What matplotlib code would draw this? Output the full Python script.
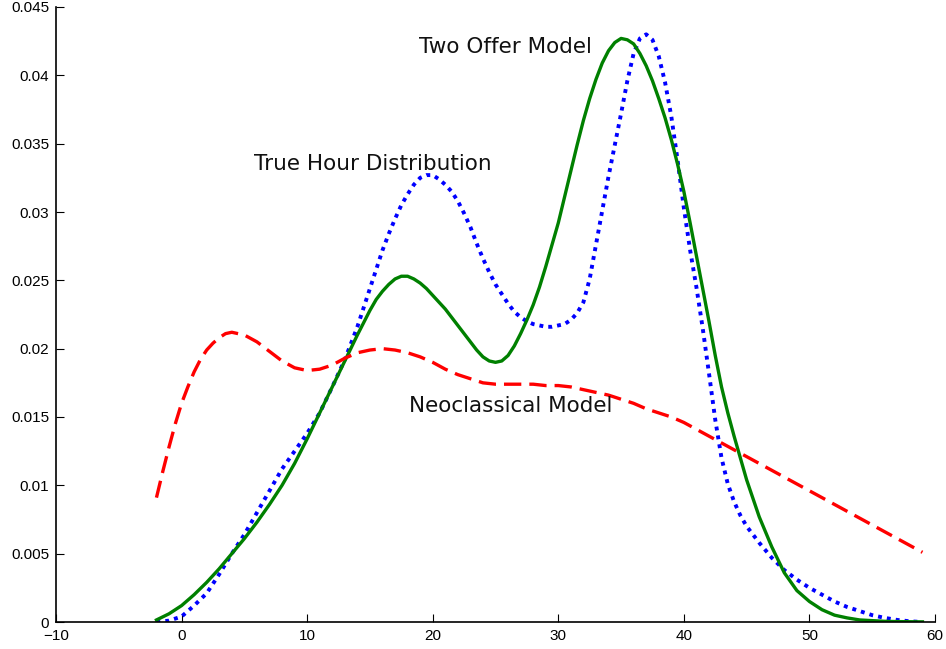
import matplotlib
matplotlib.use("Agg")
import matplotlib.pyplot as plt

plt.rcParams['font.family'] = ['Liberation Sans', 'DejaVu Sans']

# Two Offer Model (green, solid)
two_offer_x = [-2, -1, 0, 1, 2, 3, 4, 5, 6, 7, 8, 9, 10, 11, 12, 13,
               14, 14.5, 15, 15.5, 16, 16.5, 17, 17.5, 18, 18.5, 19, 19.5, 20, 20.5,
               21, 21.5, 22, 22.5, 23, 23.5, 24, 24.5, 25, 25.5, 26, 26.5, 27, 27.5,
               28, 28.5, 29, 29.5, 30, 30.5, 31, 31.5, 32, 32.5, 33, 33.5, 34, 34.5,
               35, 35.5, 36, 36.5, 37, 37.5, 38, 38.5, 39, 39.5, 40, 40.5, 41, 41.5,
               42, 42.5, 43, 43.5, 44, 45, 46, 47, 48, 49, 50, 51, 52, 53, 54, 55,
               56, 57, 58, 59]
two_offer = [0.00015, 0.0006, 0.0012, 0.0020, 0.0029, 0.0039, 0.0050, 0.0061, 0.0073, 0.0086,
             0.0100, 0.0116, 0.0134, 0.0153, 0.0172, 0.0191,
             0.0210, 0.0219, 0.0228, 0.0236, 0.0242, 0.0247, 0.0251, 0.0253, 0.0253, 0.0251,
             0.0248, 0.0244, 0.0239, 0.0234,
             0.0229, 0.0223, 0.0217, 0.0211, 0.0205, 0.0199, 0.0194, 0.0191, 0.0190, 0.0191,
             0.0195, 0.0202, 0.0211, 0.0221,
             0.0232, 0.0245, 0.0260, 0.0276, 0.0292, 0.0311, 0.0330, 0.0349, 0.0367, 0.0383,
             0.0397, 0.0409, 0.0418, 0.0424,
             0.0427, 0.0426, 0.0423, 0.0416, 0.0407, 0.0396, 0.0383, 0.0369, 0.0353, 0.0335,
             0.0315, 0.0292, 0.0268, 0.0244,
             0.0220, 0.0195, 0.0172, 0.0153, 0.0136, 0.0104, 0.0077, 0.0055, 0.0036, 0.0023,
             0.0015, 0.0009, 0.0005, 0.0003, 0.00015, 0.0001,
             0.00005, 0.00003, 0.00002, 0.00001]

# True Hour Distribution (blue, dotted)
true_x = [-2, -1, 0, 1, 2, 3, 4, 5, 6, 7, 8, 9, 10, 11, 12, 13, 14,
          15, 15.5, 16, 16.5, 17, 17.5, 18, 18.5, 19, 19.5, 20, 20.5, 21, 21.5,
          22, 22.5, 23, 23.5, 24, 24.5, 25, 25.5, 26, 26.5, 27, 27.5, 28, 28.5,
          29, 29.5, 30, 30.5, 31, 31.5, 32, 32.5, 33, 33.5, 34, 34.5, 35, 35.5,
          36, 36.5, 37, 37.5, 38, 38.5, 39, 39.5, 40, 40.5, 41, 41.5, 42, 42.5,
          43, 43.5, 44, 44.5, 45, 46, 47, 48, 49, 50, 51, 52, 53, 54, 55, 56,
          57, 58, 59]
true_hours = [0.0, 0.0001, 0.0004, 0.0012, 0.0021, 0.0035, 0.0050, 0.0064, 0.0080, 0.0096,
              0.0112, 0.0125, 0.0138, 0.0153, 0.0172, 0.0192, 0.0216,
              0.0244, 0.0258, 0.0272, 0.0284, 0.0295, 0.0305, 0.0313, 0.0320, 0.0325, 0.0327,
              0.0327, 0.0324, 0.0320, 0.0315,
              0.0308, 0.0299, 0.0289, 0.0277, 0.0266, 0.0256, 0.0247, 0.0240, 0.0233, 0.0227,
              0.0223, 0.0220, 0.0218, 0.0217,
              0.0216, 0.0216, 0.0217, 0.0218, 0.0221, 0.0226, 0.0234, 0.0251, 0.0276, 0.0301,
              0.0326, 0.0349, 0.0372, 0.0396,
              0.0416, 0.0427, 0.0430, 0.0426, 0.0414, 0.0395, 0.0370, 0.0338, 0.0303, 0.0272,
              0.0245, 0.0215, 0.0182, 0.0148,
              0.0120, 0.0101, 0.0088, 0.0078, 0.0070, 0.0058, 0.0047, 0.0038, 0.0031, 0.0025,
              0.0020, 0.0015, 0.0011, 0.0008, 0.0005, 0.0003,
              0.00015, 0.00005, 0.0]

# Neoclassical Model (red, dashed)
neo_x = [-2, -1.5, -1, -0.5, 0, 0.5, 1, 1.5, 2, 2.5, 3, 3.5, 4, 4.5, 5, 6, 7, 8, 9, 10,
         11, 12, 13, 14, 15, 16, 17, 18, 19, 20, 21, 22, 23, 24, 25, 26, 27, 28, 29, 30,
         31, 32, 33, 34, 35, 36, 37, 38, 39, 40, 41, 42, 43, 44, 45, 46, 47, 48, 49, 50,
         51, 52, 53, 54, 55, 56, 57, 58, 59]
neoclassical = [0.0091, 0.0110, 0.0128, 0.0145, 0.0160, 0.0172, 0.0183, 0.0192, 0.0199, 0.0204,
                0.0208, 0.0211, 0.0212, 0.0211, 0.0210, 0.0205, 0.0198, 0.0191, 0.0186, 0.0184,
                0.0185, 0.0188, 0.0193, 0.0197, 0.0199, 0.0200, 0.0199, 0.0197, 0.0194, 0.0190,
                0.0185, 0.0181, 0.0178, 0.0175, 0.0174, 0.0174, 0.0174, 0.0174, 0.0173, 0.0173,
                0.0172, 0.0170, 0.0168, 0.0166, 0.0163, 0.0160, 0.0156, 0.0153, 0.0150, 0.0146,
                0.0141, 0.0136, 0.0131, 0.0126, 0.0121, 0.0116, 0.0111, 0.0106, 0.0101, 0.0096,
                0.0091, 0.0086, 0.0081, 0.0076, 0.0071, 0.0066, 0.0061, 0.0056, 0.0051]

labels = ["Two Offer Model", "True Hour Distribution", "Neoclassical Model"]
label_pos = [(18.9, 0.0421), (5.8, 0.0335), (18.1, 0.0158)]

x_ticks = [-10, 0, 10, 20, 30, 40, 50, 60]
y_ticks = [0, 0.005, 0.01, 0.015, 0.02, 0.025, 0.03, 0.035, 0.04, 0.045]
y_tick_labels = ["0", "0.005", "0.01", "0.015", "0.02", "0.025", "0.03", "0.035", "0.04", "0.045"]

fig = plt.figure(figsize=(9.46, 6.49), dpi=100)
ax = fig.add_axes([56/946, 27/649, 879/946, 615/649])

ax.plot(true_x, true_hours, color='#0000FF', linestyle=(0, (1.0, 1.3)), linewidth=2.8,
        dash_capstyle='butt')
ax.plot(two_offer_x, two_offer, color='#008000', linestyle='-', linewidth=2.4,
        solid_joinstyle='round')
ax.plot(neo_x, neoclassical, color='#FF0000', linestyle=(0, (5.2, 2.4)), linewidth=2.4)

for txt, (tx, ty) in zip(labels, label_pos):
    ax.text(tx, ty, txt, ha='left', va='center', fontsize=15.5, color='#111111',
            family=['DejaVu Sans'])

ax.set_xlim(-10, 60)
ax.set_ylim(0, 0.045)
ax.set_xticks(x_ticks)
ax.set_yticks(y_ticks)
ax.set_yticklabels(y_tick_labels)
ax.tick_params(direction='in', length=6, width=0.8, labelsize=11, pad=5)
ax.spines['top'].set_visible(False)
ax.spines['right'].set_visible(False)
ax.spines['left'].set_linewidth(1.2)
ax.spines['bottom'].set_linewidth(1.2)

fig.savefig("out.png", dpi=100)
